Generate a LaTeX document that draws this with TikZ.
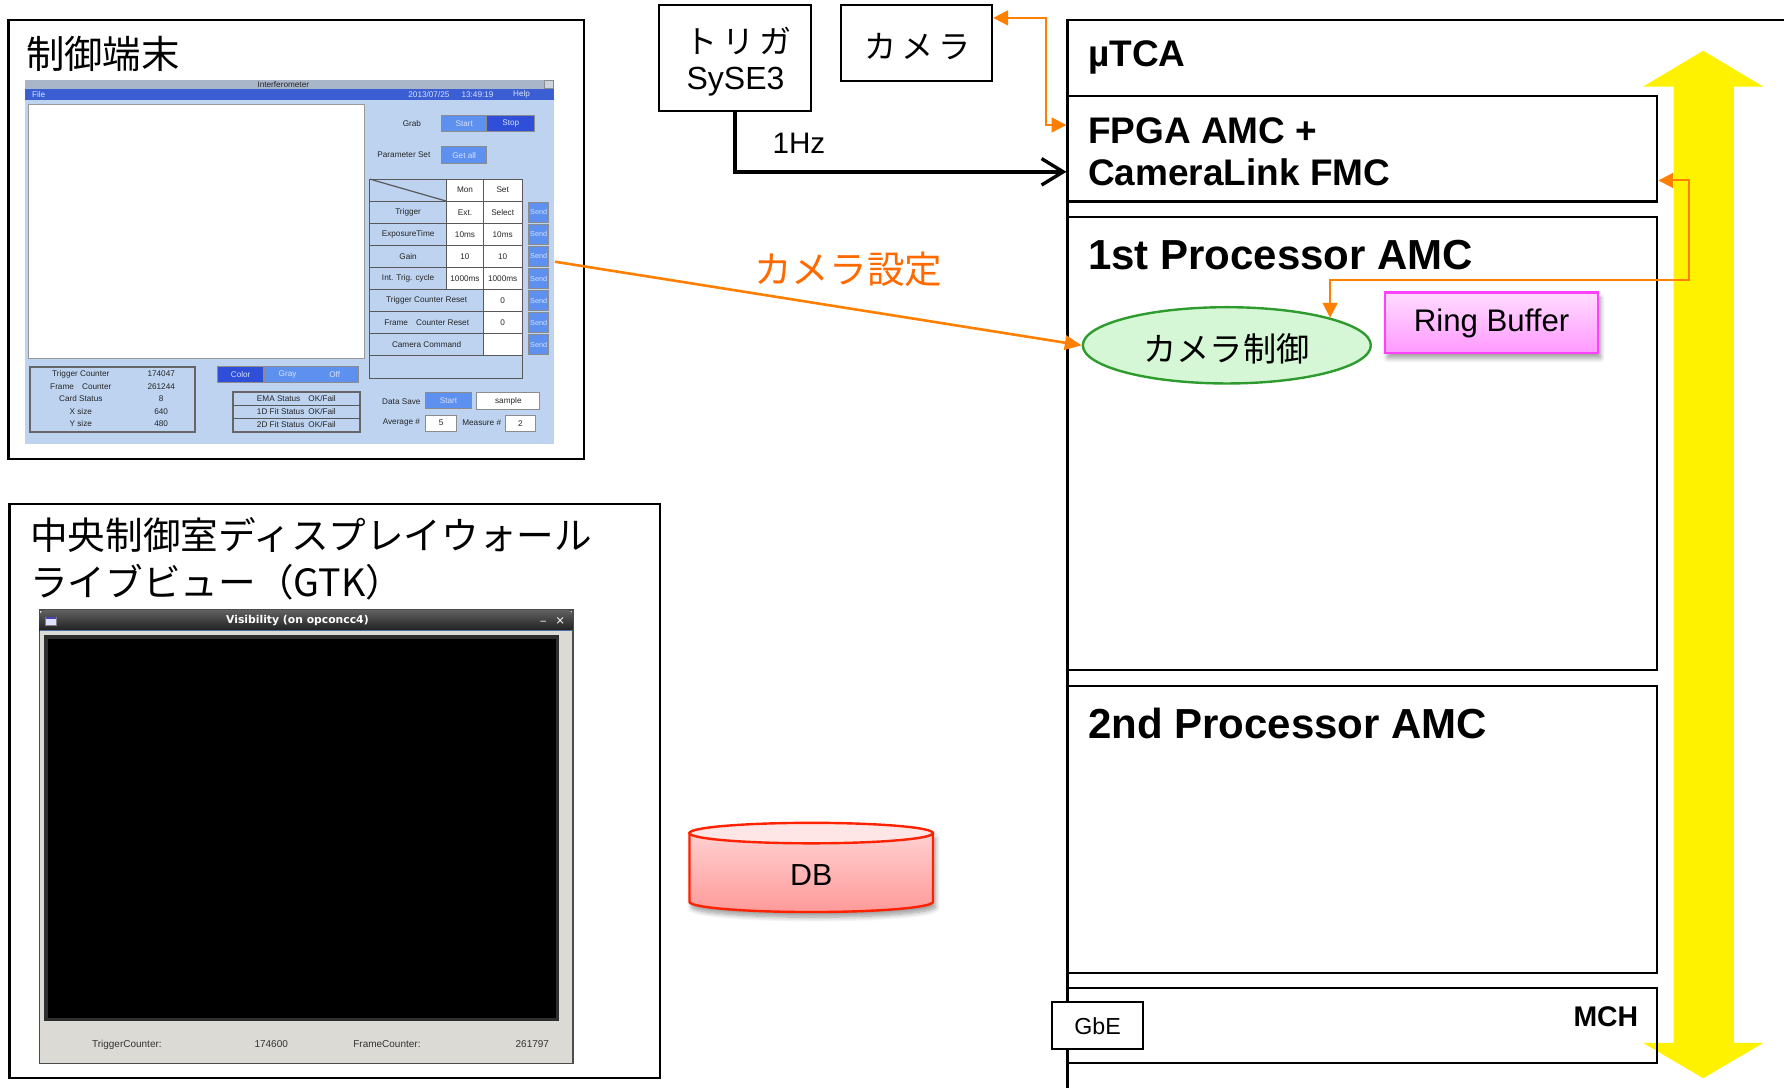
\documentclass[tikz,border=0pt]{standalone}
\usepackage{fontspec}
\setmainfont{Liberation Sans}
\newfontfamily\jpfont{Noto Sans CJK JP}
\newfontfamily\guifont{DejaVu Sans}
\usetikzlibrary{arrows.meta,shapes.geometric,shadows.blur,calc,fit}

\definecolor{orangeline}{HTML}{FF8000}
\definecolor{orangetext}{HTML}{FF6A00}
\definecolor{scrbody}{HTML}{BDD3F0}
\definecolor{scrtitle}{HTML}{A9B5C9}
\definecolor{scrmenu}{HTML}{3B5FD3}
\definecolor{btnlight}{HTML}{5E90F0}
\definecolor{btndark}{HTML}{2F4FD8}
\definecolor{btntext}{HTML}{D6E2FF}
\definecolor{gtkgrey}{HTML}{DCDAD5}
\definecolor{gtkline}{HTML}{4A6FA5}
\definecolor{ringtop}{HTML}{FFDDFF}
\definecolor{ringbot}{HTML}{FF99FF}
\definecolor{ringedge}{HTML}{FF40FF}
\definecolor{ctrlfill}{HTML}{D5F7D5}
\definecolor{ctrledge}{HTML}{2E9B2E}
\definecolor{dbtop}{HTML}{FFE6E6}
\definecolor{dbmid}{HTML}{FFD0D0}
\definecolor{dbbot}{HTML}{FF9A9A}
\definecolor{dbedge}{HTML}{FF2200}

\begin{document}
\begin{tikzpicture}[x=0.01cm,y=-0.01cm,
  plainbox/.style={draw=black, line width=0.55pt, inner sep=0pt},
  jptxt/.style={inner sep=0pt, font=\jpfont\fontsize{#1}{#1}\selectfont},
  lat/.style={inner sep=0pt, font=\fontsize{#1}{#1}\selectfont},
  latb/.style={inner sep=0pt, font=\bfseries\fontsize{#1}{#1}\selectfont},
  ui/.style={inner sep=0pt, font=\fontsize{2.05}{2.4}\selectfont, text=black!85},
  uiw/.style={ui, text=btntext},
  tbl/.style={draw=black!65, line width=0.3pt},
  uibtn/.style={draw=black!45, line width=0.25pt, fill=btnlight, inner sep=0pt,
                font=\fontsize{2.05}{2.4}\selectfont, text=btntext},
  uidark/.style={uibtn, fill=btndark},
  uifield/.style={draw=black!45, line width=0.25pt, fill=white, inner sep=0pt,
                font=\fontsize{2.05}{2.4}\selectfont, text=black!85},
  oarrow/.style={draw=orangeline, line width=0.5pt},
  softshadow/.style={blur shadow={shadow xshift=0.6pt, shadow yshift=-1.3pt,
                shadow blur radius=1.2pt, shadow blur steps=8, shadow opacity=40}},
]
\useasboundingbox (0,0) rectangle (1568,956);

% ================= control terminal =================
\node[plainbox, fit={(7.4,17.6) (513.6,403.6)}] (term) {};
\node[jptxt=9.6] (termtitle) at (90.5,47) {制御端末};

% GUI window of the terminal
\node[fit={(22,70) (487,390)}, inner sep=0pt, fill=scrbody] (scr) {};
\fill[scrtitle] (22,70) rectangle (487,78.6);
\fill[scrmenu] (22,78.6) rectangle (487,87.6);
\draw[draw=black!45, fill=scrtitle!60!white, line width=0.2pt] (478.5,70.8) rectangle (486.4,78);
\node[ui] (scrname) at (249,74.3) {Interferometer};
\node[uiw] (mfile) at (34,83.1) {File};
\node[uiw] (mdate) at (377,83.1) {2013/07/25};
\node[uiw] (mtime) at (419.7,83.1) {13:49:19};
\node[uiw] (mhelp) at (458.4,83.1) {Help};
\draw[draw=black!40, fill=white, line width=0.3pt] (25.4,91.5) rectangle (320.5,315);

% grab / parameter set
\node[ui] (grab) at (362,109) {Grab};
\node[uibtn, minimum width=0.40cm, minimum height=0.141cm] (gstart) at (408,108.6) {Start};
\node[uidark, minimum width=0.42cm, minimum height=0.141cm] (gstop) at (449,108.6) {Stop};
\node[ui] (pset) at (355,136) {Parameter Set};
\node[uibtn, minimum width=0.40cm, minimum height=0.146cm] (getall) at (408,136.3) {Get all};

% parameter table
\fill[white] (392.5,157.4) rectangle (459,254.4);
\fill[white] (425,254.4) rectangle (459,312.6);
\draw[tbl] (325,157.4) rectangle (459,333);
\foreach \k in {1,...,8} \draw[tbl] (325,{157.4+\k*19.4}) -- (459,{157.4+\k*19.4});
\draw[tbl] (392.5,157.4) -- (392.5,254.4);
\draw[tbl] (425,157.4) -- (425,312.6);
\draw[tbl] (325,157.4) -- (392.5,176.8);
\node[ui] (hmon) at (408.7,167.1) {Mon};
\node[ui] (hset) at (441.8,167.1) {Set};
\foreach \lab/\mon/\set [count=\k] in {Trigger/Ext./Select, ExposureTime/10ms/10ms, Gain/10/10, Int. Trig. cycle/1000ms/1000ms} {
  \node[ui] (tl\k) at (358.7,{157.4+\k*19.4+9.7}) {\lab};
  \node[ui] (tm\k) at (408.7,{157.4+\k*19.4+9.7}) {\mon};
  \node[ui] (ts\k) at (441.8,{157.4+\k*19.4+9.7}) {\set};
}
\node[ui] (tl5) at (375,{157.4+5*19.4+9.7}) {Trigger Counter Reset};
\node[ui] (ts5) at (441.8,{157.4+5*19.4+9.7}) {0};
\node[ui] (tl6) at (375,{157.4+6*19.4+9.7}) {Frame\quad Counter Reset};
\node[ui] (ts6) at (441.8,{157.4+6*19.4+9.7}) {0};
\node[ui] (tl7) at (375,{157.4+7*19.4+9.7}) {Camera Command};
\foreach \k in {1,...,7}
  \node[uibtn, minimum width=0.179cm, minimum height=0.172cm, font=\fontsize{1.8}{2}\selectfont] (send\k) at (473.4,{157.4+\k*19.4+9.7}) {Send};

% counters
\draw[draw=black!60, line width=0.5pt] (26.7,322.3) rectangle (171.3,379.7);
\foreach \lab/\val [count=\k] in {Trigger Counter/174047, Frame\quad Counter/261244, Card Status/8, X size/640, Y size/480} {
  \node[ui] (sl\k) at (71,{317.9+\k*10.9}) {\lab};
  \node[ui] (sv\k) at (141.7,{317.9+\k*10.9}) {\val};
}

% display mode buttons
\node[uidark, minimum width=0.41cm, minimum height=0.141cm] (bcolor) at (211.5,329.4) {Color};
\node[uibtn, minimum width=0.415cm, minimum height=0.141cm] (bgray) at (252.8,329.4) {Gray};
\node[uibtn, minimum width=0.413cm, minimum height=0.141cm] (boff) at (294.2,329.4) {Off};

% fit status
\draw[draw=black!60, line width=0.5pt] (204.6,344.7) rectangle (316.5,379.7);
\draw[tbl] (204.6,356.2) -- (316.5,356.2);
\draw[tbl] (204.6,367.6) -- (316.5,367.6);
\node[ui] (ema) at (260.5,350.6) {EMA Status\enspace\enspace OK/Fail};
\node[ui] (fit1) at (260.5,361.9) {1D Fit Status\enspace OK/Fail};
\node[ui] (fit2) at (260.5,373.2) {2D Fit Status\enspace OK/Fail};

% data save
\node[ui] (dsave) at (352.8,352.9) {Data Save};
\node[uibtn, minimum width=0.41cm, minimum height=0.138cm] (dstart) at (394.2,352.2) {Start};
\node[uifield, minimum width=0.555cm, minimum height=0.146cm] (dname) at (446.8,352.6) {sample};
\node[ui] (avg) at (352.8,371.5) {Average \#};
\node[uifield, minimum width=0.268cm, minimum height=0.138cm] (avgval) at (387.8,371.9) {5};
\node[ui] (meas) at (423.4,371.5) {Measure \#};
\node[uifield, minimum width=0.27cm, minimum height=0.138cm] (measval) at (457.5,371.9) {2};

% ================= control room display wall =================
\node[plainbox, fit={(8.4,443) (580,947.7)}] (live) {};
\node[jptxt=9.4, anchor=west] (livet1) at (26,470) {中央制御室ディスプレイウォール};
\node[jptxt=9.4, anchor=west] (livet2) at (26,512) {ライブビュー（GTK）};

\node[fit={(34.8,536.2) (503.6,934.6)}, inner sep=0pt, fill=gtkgrey, draw=black!70, line width=0.3pt] (gtk) {};
\shade[top color=black!62, bottom color=black!88]
  (34.8,554.4) [rounded corners=1.5pt] -- (34.8,536.2) -- (503.6,536.2) [sharp corners] -- (503.6,554.4) -- cycle;
\draw[gtkline, line width=0.3pt] (34.8,554.4) -- (503.6,554.4);
\draw[draw=black!50, fill=white!88!blue, line width=0.2pt] (40.2,542.6) rectangle (49.6,549.6);
\fill[blue!45!gray] (40.2,542.6) rectangle (49.6,544.4);
\node[inner sep=0pt, font=\guifont\bfseries\fontsize{2.7}{3}\selectfont, text=white] (gtkname) at (261.4,545.5) {Visibility (on opconcc4)};
\node[inner sep=0pt, font=\guifont\fontsize{2.7}{3}\selectfont, text=white] (gtkmin) at (477.5,545.5) {\_};
\node[inner sep=0pt, font=\guifont\fontsize{2.9}{3}\selectfont, text=white] (gtkclose) at (492.4,545.5) {×};
\fill[black!82] (38.9,558.2) rectangle (491.6,897.2);
\fill[black] (42.5,561.5) rectangle (488.5,894.5);
\node[lat=2.5, text=black!80] (gtktc) at (111.5,918) {TriggerCounter:};
\node[lat=2.5, text=black!80] (gtktcv) at (238.4,918) {174600};
\node[lat=2.5, text=black!80] (gtkfc) at (340.1,918) {FrameCounter:};
\node[lat=2.5, text=black!80] (gtkfcv) at (467.9,918) {261797};

% ================= database =================
\path[draw=dbedge, line width=0.6pt, top color=dbmid, bottom color=dbbot, softshadow]
  (606,732.2) -- (606,792.6) arc[start angle=180, end angle=0, x radius=107, y radius=9]
  -- (820,732.2) -- cycle;
\draw[draw=dbedge, fill=dbtop, line width=0.6pt] (713,732.2) ellipse [x radius=107, y radius=9];
\node[lat=7.6] (db) at (713,769) {DB};

% ================= trigger and camera =================
\node[plainbox, fit={(579.4,4.4) (712.6,97.6)}] (trig) {};
\node[jptxt=8] (trigt) at (649,36) {ト\,リ\,ガ};
\node[lat=8, anchor=base] (trigs) at (646.5,79) {SySE3};
\node[plainbox, fit={(739.3,4.4) (872,71)}] (cam) {};
\node[jptxt=8] (camt) at (806.5,41) {カ\,メ\,ラ};
\node[lat=7.4, anchor=base west] (hz) at (678.3,134.8) {1Hz};

% ================= uTCA crate =================
% backplane bus
\fill[yellow] (1497,44.6) -- (1550,76.2) -- (1524,76.2) -- (1524,916.5) -- (1550,916.5)
  -- (1497,947.7) -- (1444,916.5) -- (1471,916.5) -- (1471,76.2) -- (1444,76.2) -- cycle;
\draw[draw=black, line width=0.55pt] (938.3,956) -- (938.3,17.6) -- (1568,17.6);
\node[latb=9.25, anchor=base west] (utca) at (955.7,58.6) {µTCA};

\node[plainbox, fit={(938.3,84.4) (1456.6,177)}] (fpga) {};
\node[latb=9.25, anchor=base west] (fpgat1) at (955.7,126) {FPGA AMC +};
\node[latb=9.25, anchor=base west] (fpgat2) at (955.7,162.6) {CameraLink FMC};

\node[plainbox, fit={(938.3,190.5) (1456.6,589)}] (proc1) {};
\node[latb=10.5, anchor=base west] (proc1t) at (955.7,236.8) {1st Processor AMC};

\node[ellipse, draw=ctrledge, fill=ctrlfill, line width=0.6pt, minimum width=2.53cm,
      minimum height=0.67cm, inner sep=0pt] (ctrl) at (1078.3,303.5) {};
\node[jptxt=8.3] (ctrlt) at (1078,307) {カメラ制御};

\node[fit={(1217.5,257) (1404.4,310)}, inner sep=0pt, draw=ringedge, line width=0.6pt,
      top color=ringtop, bottom color=ringbot, softshadow] (ring) {};
\node[lat=7.8] (ringt) at (1311,284) {Ring Buffer};

\node[plainbox, fit={(938.3,602.7) (1456.6,855)}] (proc2) {};
\node[latb=10.5, anchor=base west] (proc2t) at (955.7,649) {2nd Processor AMC};

\node[plainbox, fit={(938.3,868.6) (1456.6,934.6)}] (mch) {};
\node[latb=7.1, anchor=base east] (mcht) at (1440.6,901.8) {MCH};
\node[plainbox, fill=white, fit={(924.6,881) (1004.8,922)}] (gbe) {};
\node[lat=5.8] (gbet) at (964.7,902.3) {GbE};

% ================= connections =================
\draw[line width=0.85pt, -{Straight Barb[length=5.4pt,width=6.6pt]}]
  (trig.south) |- ($(fpga.west)+(0,20.3)$);
\draw[oarrow, {Triangle[length=3.7pt,width=3.7pt]}-{Triangle[length=3.7pt,width=3.7pt]}]
  ($(cam.north east)+(0,12.3)$) -- ++(46.4,0) |- ($(fpga.north west)+(0,26.4)$);
\path (ctrl.15) ++(0,-32.7) coordinate (turn);
\draw[oarrow, {Triangle[length=3.7pt,width=3.7pt]}-{Triangle[length=3.7pt,width=3.7pt]}]
  ($(fpga.south east)+(0,-19.4)$) -- ++(27,0) |- (turn) -- (ctrl.15);
\draw[draw=orangeline, line width=0.65pt, -{Triangle[length=4.2pt,width=3.6pt]}]
  (scr.east) -- (ctrl.west);
\node[jptxt=9.4, text=orangetext] (camset) at (745.5,236.7) {カメラ設定};

\end{tikzpicture}
\end{document}
